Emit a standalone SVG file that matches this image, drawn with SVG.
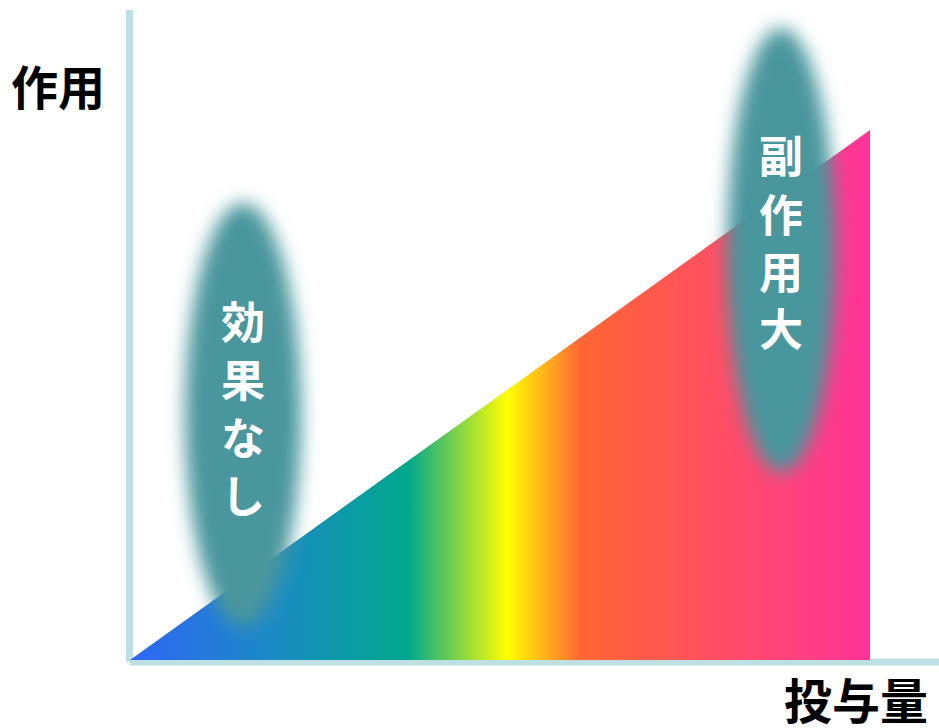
<svg xmlns="http://www.w3.org/2000/svg" width="939" height="728" viewBox="0 0 939 728">
<style>
.lbl{font-family:"Noto Sans CJK JP","Noto Sans CJK SC",sans-serif;font-weight:700;fill:#000;}
.in{font-family:"Noto Sans CJK JP","Noto Sans CJK SC",sans-serif;font-weight:700;fill:#fff;font-size:44px;text-anchor:middle;}
.axis{stroke:#bde0e4;stroke-width:7;fill:none;}
.blob{fill:#48969d;filter:url(#blur);}
</style>
<defs>
<linearGradient id="rain" gradientUnits="userSpaceOnUse" x1="130" y1="0" x2="870" y2="0">
<stop offset="0" stop-color="#2f66f5"/>
<stop offset="0.2" stop-color="#1a8cc2"/>
<stop offset="0.376" stop-color="#00a88c"/>
<stop offset="0.51" stop-color="#ffff00"/>
<stop offset="0.61" stop-color="#ff6633"/>
<stop offset="1" stop-color="#ff3399"/>
</linearGradient>
<filter id="blur" x="-50%" y="-20%" width="200%" height="140%">
<feGaussianBlur stdDeviation="9"/>
</filter>
</defs>
<rect width="939" height="728" fill="#fff"/>
<g id="axes">
<line class="axis" x1="129.5" y1="10" x2="129.5" y2="662"/>
<line class="axis" x1="130" y1="662" x2="939" y2="662"/>
</g>
<g id="area">
<polygon points="130,660 870,130 870,660" fill="url(#rain)"/>
</g>
<g id="no-effect">
<ellipse class="blob" cx="243" cy="415" rx="58" ry="212"/>
<text class="in" x="243" y="339">効</text>
<text class="in" x="243" y="397">果</text>
<text class="in" x="243" y="455">な</text>
<text class="in" x="243" y="513">し</text>
</g>
<g id="side-effect">
<ellipse class="blob" cx="781" cy="250" rx="54" ry="222"/>
<text class="in" x="781" y="173">副</text>
<text class="in" x="781" y="232">作</text>
<text class="in" x="781" y="289">用</text>
<text class="in" x="781" y="346">大</text>
</g>
<g id="y-label">
<text class="lbl" x="11" y="105" font-size="47">作用</text>
</g>
<g id="x-label">
<text class="lbl" x="784" y="719" font-size="48">投与量</text>
</g>
</svg>
